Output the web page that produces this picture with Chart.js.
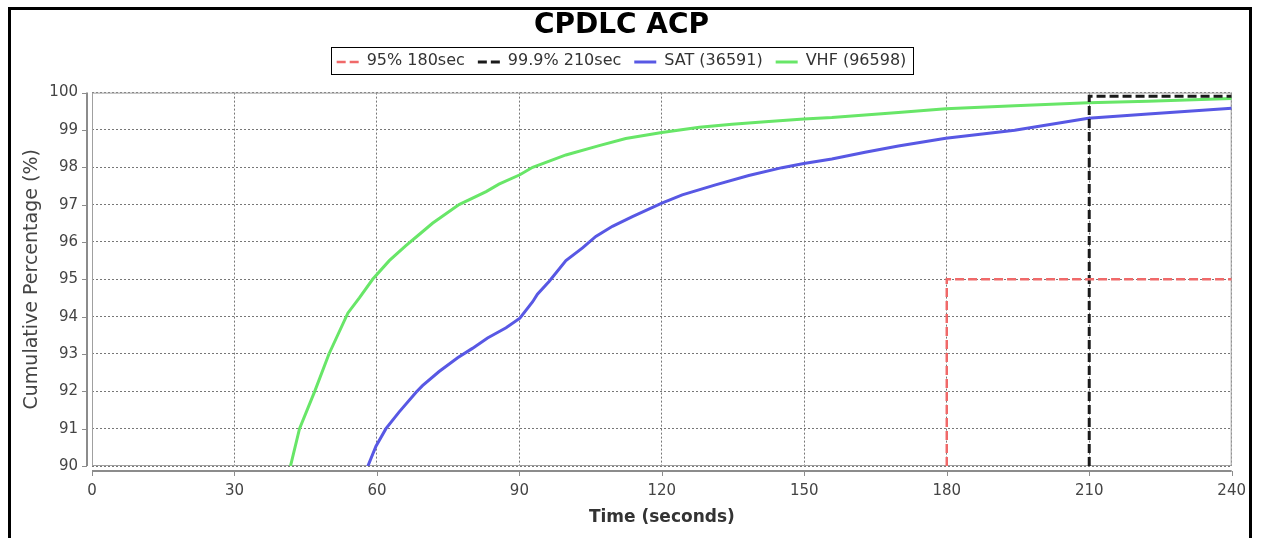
<!DOCTYPE html>
<html>
<head>
<meta charset="utf-8">
<script src="https://cdn.jsdelivr.net/npm/chart.js@4.4.0/dist/chart.umd.min.js"></script>
<style>
    html, body { margin: 0; padding: 0; background: #fff; }
    #wrap { position: absolute; left: 0; top: 0; width: 1262px; height: 538px; }
</style>
</head>
<body>
<div id="wrap"><canvas id="chartAcp" width="1262" height="538"></canvas></div>
<script>
/* --- datos -------------------------------------------------------------- */
const titulo = 'CPDLC ACP';
const xTicks = [0, 30, 60, 90, 120, 150, 180, 210, 240];

const satLabel = 'SAT (36591)';
const satTiempo = [58.1, 59.8, 61.9, 64.7, 68.3, 69.6, 73.1, 77.0, 80.1, 83.3, 87.2, 90.1, 92.8, 93.8, 96.3,
    99.8, 103.3, 106.1, 109.6, 113.8, 120.0, 124.3, 131.3, 138.3, 145.3, 149.9, 155.8, 162.8, 169.8,
    179.8, 194.3, 209.8, 222.4, 240.0];
const satPct = [90.0, 90.53, 91.0, 91.45, 91.98, 92.15, 92.53, 92.9, 93.15, 93.43, 93.7, 93.96, 94.4, 94.6, 94.95,
    95.5, 95.84, 96.15, 96.42, 96.68, 97.04, 97.26, 97.53, 97.78, 97.99, 98.1, 98.22, 98.4, 98.57,
    98.78, 98.99, 99.31, 99.43, 99.58];

const vhfLabel = 'VHF (96598)';
const vhfTiempo = [41.8, 43.7, 46.9, 49.9, 53.9, 56.3, 59.1, 62.6, 66.1, 68.9, 71.7, 77.3, 83.0, 85.7, 90.1, 92.8,
    99.8, 106.8, 112.4, 120.0, 127.9, 134.8, 141.8, 149.9, 155.8, 162.8, 169.8, 179.8, 194.3, 209.8,
    222.4, 240.0];
const vhfPct = [90.0, 91.0, 92.0, 93.0, 94.1, 94.5, 95.0, 95.5, 95.9, 96.2, 96.5, 97.0, 97.35, 97.55, 97.8, 98.0,
    98.33, 98.58, 98.77, 98.93, 99.07, 99.15, 99.22, 99.29, 99.33, 99.4, 99.47, 99.57, 99.65, 99.73,
    99.77, 99.84];

const lim95Label = '95% 180sec';
const lim95Tiempo = [180, 180, 240];
const lim95Pct = [90, 95, 95];

const lim999Label = '99.9% 210sec';
const lim999Tiempo = [210, 210, 240];
const lim999Pct = [90, 99.9, 99.9];

/* --- helpers ------------------------------------------------------------- */
function puntos(xs, ys) {
    return xs.map((x, i) => ({ x, y: ys[i] }));
}

const GRIS = '#8c8c8c';
const ANCHO_MARCA = 22;

/* marco negro, borde del area, ejes desplazados y marcas de la leyenda */
const decoracion = {
    id: 'decoracion',
    beforeDatasetsDraw(chart) {
        const { ctx, chartArea: a } = chart;
        ctx.save();
        ctx.strokeStyle = '#a0a0a0';
        ctx.lineWidth = 1;
        ctx.strokeRect(a.left + 0.5, a.top + 0.5, a.right - a.left - 1, a.bottom - a.top - 1);
        ctx.restore();
    },
    afterDraw(chart) {
        const { ctx, chartArea: a, scales } = chart;
        ctx.save();
        // ejes
        ctx.strokeStyle = GRIS;
        ctx.lineWidth = 2;
        const ax = a.left - 5;
        const ay = a.bottom + 5;
        ctx.beginPath();
        ctx.moveTo(ax, a.top);
        ctx.lineTo(ax, a.bottom);
        ctx.moveTo(a.left, ay);
        ctx.lineTo(a.right, ay);
        ctx.stroke();
        ctx.lineWidth = 1;
        ctx.beginPath();
        scales.y.ticks.forEach(t => {
            const py = Math.round(scales.y.getPixelForValue(t.value)) + 0.5;
            ctx.moveTo(ax - 5, py);
            ctx.lineTo(ax, py);
        });
        scales.x.ticks.forEach(t => {
            const px = Math.round(scales.x.getPixelForValue(t.value)) + 0.5;
            ctx.moveTo(px, ay);
            ctx.lineTo(px, ay + 5);
        });
        ctx.stroke();

        // leyenda: recuadro y lineas de muestra
        const hb = chart.legend.legendHitBoxes;
        if (hb && hb.length) {
            const l = Math.min(...hb.map(h => h.left)) - 6;
            const r = Math.max(...hb.map(h => h.left + h.width)) + 6;
            const t = Math.min(...hb.map(h => h.top)) - 6;
            const b = Math.max(...hb.map(h => h.top + h.height)) + 5;
            ctx.strokeStyle = '#000';
            ctx.lineWidth = 1;
            ctx.strokeRect(Math.round(l) + 0.5, Math.round(t) + 0.5, Math.round(r - l), Math.round(b - t));

            hb.forEach((h, i) => {
                const ds = chart.data.datasets[i];
                const my = h.top + h.height / 2 + 1;
                ctx.strokeStyle = ds.borderColor;
                ctx.lineWidth = ds.borderWidth;
                ctx.setLineDash(ds.borderDash || []);
                ctx.beginPath();
                ctx.moveTo(h.left, my);
                ctx.lineTo(h.left + ANCHO_MARCA, my);
                ctx.stroke();
            });
            ctx.setLineDash([]);
        }

        // marco negro de la imagen
        ctx.strokeStyle = '#000';
        ctx.lineWidth = 3;
        ctx.beginPath();
        ctx.moveTo(9.5, 560);
        ctx.lineTo(9.5, 8.5);
        ctx.lineTo(1250.5, 8.5);
        ctx.lineTo(1250.5, 560);
        ctx.stroke();
        ctx.restore();
    }
};

const fuente = "'DejaVu Sans', sans-serif";

new Chart(document.getElementById('chartAcp'), {
    type: 'line',
    data: {
        datasets: [
            {
                label: lim95Label,
                data: puntos(lim95Tiempo, lim95Pct),
                borderColor: 'rgb(240,105,105)',
                borderWidth: 2.5,
                borderDash: [9, 4]
            },
            {
                label: lim999Label,
                data: puntos(lim999Tiempo, lim999Pct),
                borderColor: '#1a1a1a',
                borderWidth: 3,
                borderDash: [9, 4]
            },
            {
                label: satLabel,
                data: puntos(satTiempo, satPct),
                borderColor: 'rgb(88,88,228)',
                borderWidth: 3
            },
            {
                label: vhfLabel,
                data: puntos(vhfTiempo, vhfPct),
                borderColor: 'rgb(104,230,104)',
                borderWidth: 3
            }
        ]
    },
    options: {
        responsive: false,
        animation: false,
        devicePixelRatio: 1,
        elements: { point: { radius: 0 }, line: { tension: 0 } },
        layout: { padding: { left: 10, right: 29, top: 4, bottom: 0 } },
        plugins: {
            tooltip: { enabled: false },
            title: {
                display: true,
                text: titulo,
                color: '#000',
                font: { family: fuente, size: 28, weight: 'bold', lineHeight: 1.0 },
                padding: { top: 8, bottom: 0 }
            },
            // espacio entre la leyenda y el area del grafico
            subtitle: {
                display: true,
                text: '',
                weight: 500,
                font: { size: 10, lineHeight: 1.36 },
                padding: 0
            },
            legend: {
                display: true,
                labels: {
                    usePointStyle: true,
                    pointStyle: 'line',
                    pointStyleWidth: ANCHO_MARCA,
                    color: '#333',
                    padding: 13,
                    font: { family: fuente, size: 16 },
                    generateLabels: chart => Chart.defaults.plugins.legend.labels.generateLabels(chart)
                        .map(it => ({ ...it, strokeStyle: 'rgba(0,0,0,0)', lineWidth: 0 }))
                }
            }
        },
        scales: {
            x: {
                type: 'linear',
                min: 0,
                max: 240,
                afterBuildTicks: s => { s.ticks = xTicks.map(v => ({ value: v })); },
                afterFit: s => { s.height = 72; },
                grid: { color: '#777', drawTicks: false, lineWidth: 1 },
                border: { display: false, dash: [2, 2] },
                ticks: { color: '#444', padding: 16, font: { family: fuente, size: 15 } },
                title: {
                    display: true,
                    text: 'Time (seconds)',
                    color: '#333',
                    font: { family: fuente, size: 17, weight: 'bold' },
                    padding: { top: 0, bottom: 10 }
                }
            },
            y: {
                min: 90,
                max: 100,
                afterFit: s => { s.width = 82; },
                grid: { color: '#777', drawTicks: false, lineWidth: 1 },
                border: { display: false, dash: [2, 2] },
                ticks: { stepSize: 1, color: '#444', padding: 14, font: { family: fuente, size: 15 } },
                title: {
                    display: true,
                    text: 'Cumulative Percentage (%)',
                    color: '#444',
                    font: { family: fuente, size: 19 },
                    padding: { top: 11, bottom: 0 }
                }
            }
        }
    },
    plugins: [decoracion]
});
</script>
</body>
</html>
